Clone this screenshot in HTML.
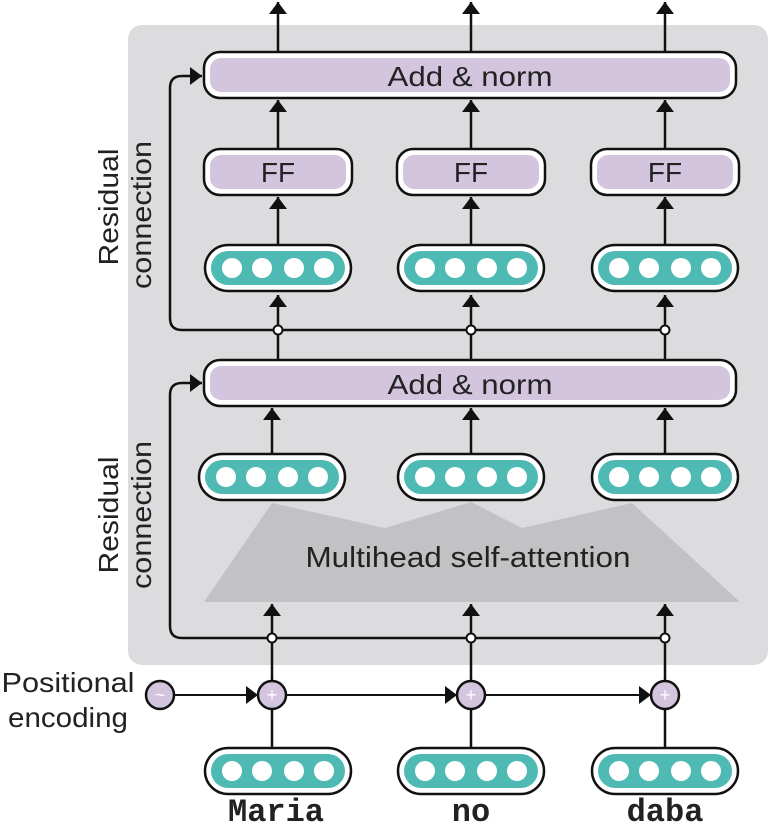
<!DOCTYPE html>
<html><head><style>body{margin:0;background:#fff}</style></head><body>
<svg width="768" height="831" viewBox="0 0 768 831" xmlns="http://www.w3.org/2000/svg" font-family="Liberation Sans, sans-serif">
<defs>
<marker id="b" viewBox="0 0 10 10" markerWidth="12" markerHeight="18" refX="10" refY="5" orient="auto" markerUnits="userSpaceOnUse" preserveAspectRatio="none"><path d="M0,0 L10,5 L0,10 Z" fill="#111"/></marker>
<g id="vec"><rect x="-73" y="-23" width="146" height="46" rx="23" fill="#fff" stroke="#111" stroke-width="2.5"/><rect x="-67" y="-17" width="134" height="34" rx="17" fill="#4fbab3"/><circle cx="-46" r="10" fill="#fff"/><circle cx="-16" r="10" fill="#fff"/><circle cx="16" r="10" fill="#fff"/><circle cx="46" r="10" fill="#fff"/></g>
<g id="ff"><rect x="-74" y="-23" width="148" height="46" rx="16" fill="#fff" stroke="#111" stroke-width="2.5"/><rect x="-68" y="-17" width="136" height="34" rx="11" fill="#d3c5de"/><text y="10" font-size="28" text-anchor="middle" fill="#222">FF</text></g>
</defs>
<rect x="128" y="25" width="640" height="640" rx="14" fill="#dcdcde"/>
<polygon points="204,602 272,503 385,528 471,502 522,528 632,503 740,602" fill="#c2c2c4"/>
<text x="468" y="567" font-size="29" text-anchor="middle" fill="#222" textLength="325" lengthAdjust="spacingAndGlyphs">Multihead self-attention</text>
<g stroke="#111" stroke-width="2.5" fill="none">
<line x1="272" y1="795" x2="272" y2="604" marker-end="url(#b)"/>
<line x1="471" y1="795" x2="471" y2="604" marker-end="url(#b)"/>
<line x1="665" y1="795" x2="665" y2="604" marker-end="url(#b)"/>
<line x1="272" y1="497" x2="272" y2="408" marker-end="url(#b)"/>
<line x1="471" y1="497" x2="471" y2="408" marker-end="url(#b)"/>
<line x1="665" y1="497" x2="665" y2="408" marker-end="url(#b)"/>
<line x1="278" y1="360" x2="278" y2="295" marker-end="url(#b)"/>
<line x1="471" y1="360" x2="471" y2="295" marker-end="url(#b)"/>
<line x1="665" y1="360" x2="665" y2="295" marker-end="url(#b)"/>
<line x1="278" y1="245" x2="278" y2="197" marker-end="url(#b)"/>
<line x1="471" y1="245" x2="471" y2="197" marker-end="url(#b)"/>
<line x1="665" y1="245" x2="665" y2="197" marker-end="url(#b)"/>
<line x1="278" y1="150" x2="278" y2="100" marker-end="url(#b)"/>
<line x1="471" y1="150" x2="471" y2="100" marker-end="url(#b)"/>
<line x1="665" y1="150" x2="665" y2="100" marker-end="url(#b)"/>
<line x1="278" y1="52" x2="278" y2="2" marker-end="url(#b)"/>
<line x1="471" y1="52" x2="471" y2="2" marker-end="url(#b)"/>
<line x1="665" y1="52" x2="665" y2="2" marker-end="url(#b)"/>
<path d="M665,638 H182 Q170,638 170,626 V395 Q170,383 182,383 H202" marker-end="url(#b)"/>
<path d="M665,330 H182 Q170,330 170,318 V88 Q170,76 182,76 H202" marker-end="url(#b)"/>
<line x1="174" y1="695" x2="258" y2="695" stroke-width="2" marker-end="url(#b)"/>
<line x1="286" y1="695" x2="457" y2="695" stroke-width="2" marker-end="url(#b)"/>
<line x1="485" y1="695" x2="651" y2="695" stroke-width="2" marker-end="url(#b)"/>
</g>
<g fill="#fff" stroke="#111" stroke-width="2"><circle cx="272" cy="638" r="4.5"/><circle cx="471" cy="638" r="4.5"/><circle cx="665" cy="638" r="4.5"/><circle cx="278" cy="330" r="4.5"/><circle cx="471" cy="330" r="4.5"/><circle cx="665" cy="330" r="4.5"/></g>
<g fill="#d3c5de" stroke="#111" stroke-width="2.5"><circle cx="160" cy="695" r="14"/><circle cx="272" cy="695" r="14"/><circle cx="471" cy="695" r="14"/><circle cx="665" cy="695" r="14"/></g>
<g fill="#fff" font-size="18" text-anchor="middle"><text x="160" y="701">~</text><text x="272" y="701">+</text><text x="471" y="701">+</text><text x="665" y="701">+</text></g>
<rect x="204" y="52" width="532" height="46" rx="16" fill="#fff" stroke="#111" stroke-width="2.5"/><rect x="210" y="58" width="520" height="34" rx="11" fill="#d3c5de"/>
<text x="470" y="86" font-size="28" text-anchor="middle" fill="#222" textLength="165" lengthAdjust="spacingAndGlyphs">Add &amp; norm</text>
<rect x="204" y="360" width="532" height="46" rx="16" fill="#fff" stroke="#111" stroke-width="2.5"/><rect x="210" y="366" width="520" height="34" rx="11" fill="#d3c5de"/>
<text x="470" y="394" font-size="28" text-anchor="middle" fill="#222" textLength="165" lengthAdjust="spacingAndGlyphs">Add &amp; norm</text>
<use href="#ff" x="278" y="172"/><use href="#ff" x="471" y="172"/><use href="#ff" x="665" y="172"/>
<use href="#vec" x="278" y="268"/><use href="#vec" x="471" y="268"/><use href="#vec" x="665" y="268"/>
<use href="#vec" x="272" y="477"/><use href="#vec" x="471" y="477"/><use href="#vec" x="665" y="477"/>
<use href="#vec" x="278" y="771"/><use href="#vec" x="471" y="771"/><use href="#vec" x="665" y="771"/>
<g font-size="28" fill="#222" text-anchor="middle">
<text transform="translate(118,207) rotate(-90)" textLength="117" lengthAdjust="spacingAndGlyphs">Residual</text><text transform="translate(151,215) rotate(-90)" textLength="148" lengthAdjust="spacingAndGlyphs">connection</text>
<text transform="translate(118,515) rotate(-90)" textLength="117" lengthAdjust="spacingAndGlyphs">Residual</text><text transform="translate(151,515) rotate(-90)" textLength="148" lengthAdjust="spacingAndGlyphs">connection</text>
<text x="68" y="692" textLength="133" lengthAdjust="spacingAndGlyphs">Positional</text><text x="68" y="727" textLength="120" lengthAdjust="spacingAndGlyphs">encoding</text>
</g>
<g font-family="Liberation Mono, monospace" font-weight="bold" font-size="32" fill="#222" text-anchor="middle">
<text x="276" y="821">Maria</text><text x="471" y="821">no</text><text x="665" y="821">daba</text></g>
</svg>
</body></html>
